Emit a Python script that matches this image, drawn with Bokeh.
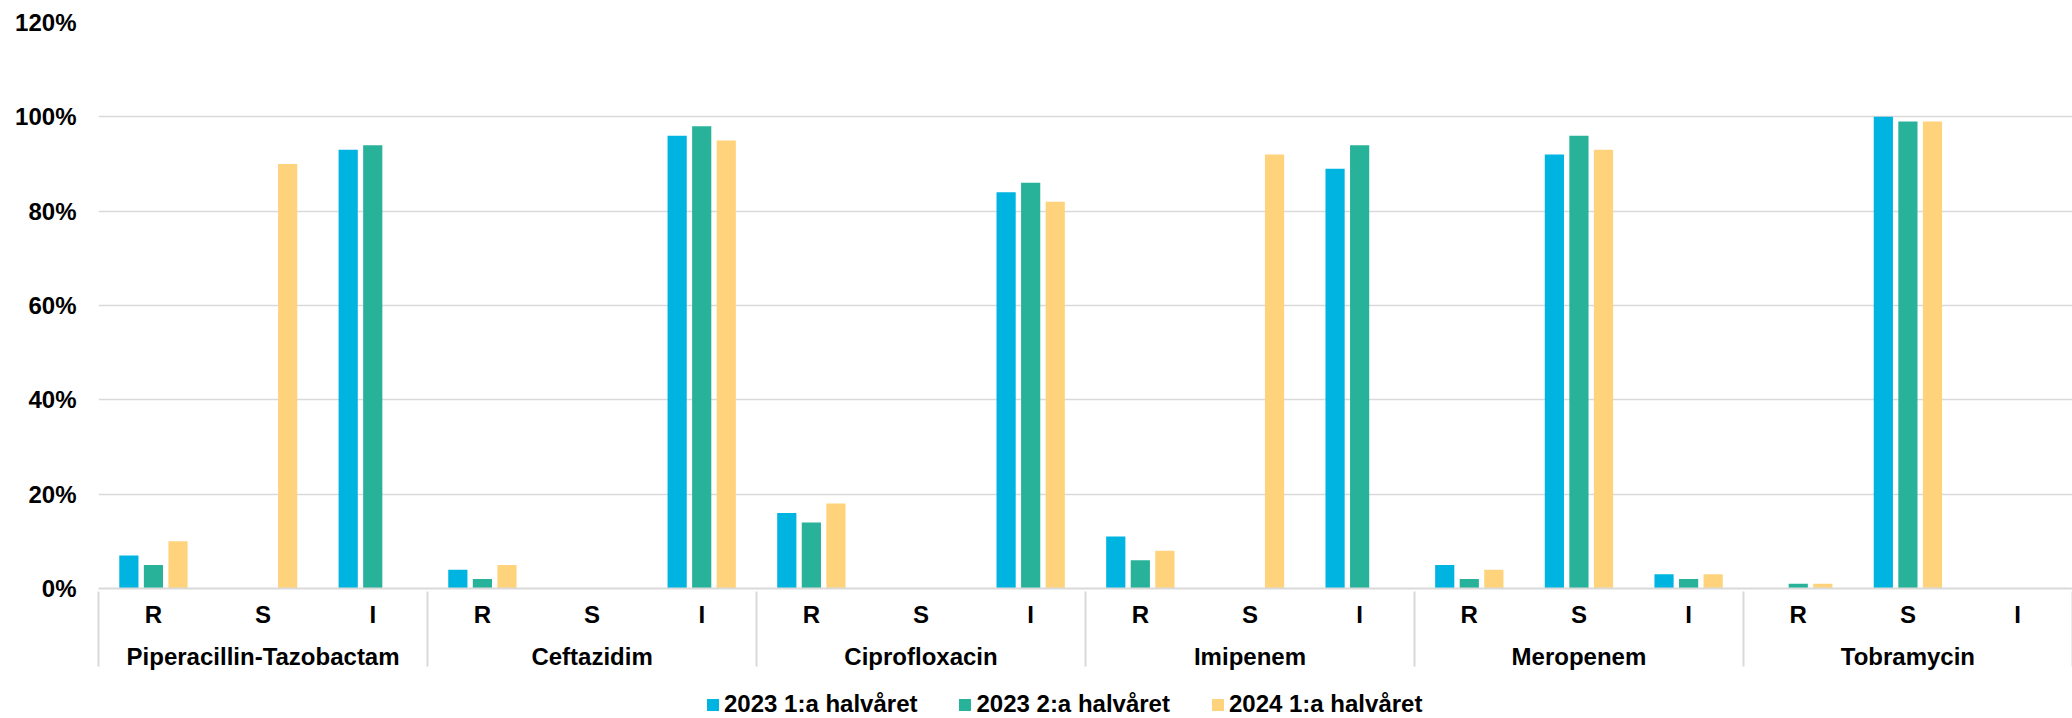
from bokeh.plotting import figure
from bokeh.layouts import column
from bokeh.models import (FactorRange, Range1d, FixedTicker, PrintfTickFormatter,
                          Legend, LegendItem, ColumnDataSource)
from bokeh.transform import dodge
from bokeh.embed import file_html
from bokeh.resources import INLINE

# ---- data ----
antibiotics = ["Piperacillin-Tazobactam", "Ceftazidim", "Ciprofloxacin",
               "Imipenem", "Meropenem", "Tobramycin"]
sir = ["R", "S", "I"]
series_names = ["2023 1:a halvåret", "2023 2:a halvåret", "2024 1:a halvåret"]
h2023_1 = [7, 0, 93, 4, 0, 96, 16, 0, 84, 11, 0, 89, 5, 92, 3, 0, 100, 0]
h2023_2 = [5, 0, 94, 2, 0, 98, 14, 0, 86, 6, 0, 94, 2, 96, 2, 1, 99, 0]
h2024_1 = [10, 90, 0, 5, 0, 95, 18, 0, 82, 8, 92, 0, 4, 93, 3, 1, 99, 0]
y_ticks = [0, 20, 40, 60, 80, 100, 120]

colors = ["#00B4E1", "#29B29A", "#FFD37B"]

factors = [(a, s) for a in antibiotics for s in sir]
# empty edge slots (hidden by negative padding) so that the axis draws a
# separator at the left edge of the first group as well
range_factors = [("", "")] + factors + [(" ", " ")]
source = ColumnDataSource(data=dict(x=factors, a=h2023_1, b=h2023_2, c=h2024_1))

FONT = "Liberation Sans"
FS = "24px"

p = figure(x_range=FactorRange(*range_factors, range_padding=-0.999,
                               range_padding_units="absolute",
                               group_padding=0, factor_padding=0),
           y_range=Range1d(0, 120),
           width=2072, height=678, output_backend="svg", toolbar_location=None,
           min_border_left=98, min_border_right=0, min_border_top=22,
           min_border_bottom=90)
p.outline_line_color = None

renderers = []
for col, off, color in zip(["a", "b", "c"], [-0.224, 0.0, 0.224], colors):
    r = p.vbar(x=dodge("x", off, range=p.x_range), top=col, width=0.175,
               source=source, fill_color=color, line_color=None)
    renderers.append(r)

# grid
p.xgrid.grid_line_color = None
p.ygrid.grid_line_color = "#D9D9D9"
p.ygrid.grid_line_width = 1.5

# y axis
p.yaxis.ticker = FixedTicker(ticks=y_ticks)
p.yaxis.formatter = PrintfTickFormatter(format="%d%%")
p.yaxis.axis_line_color = None
p.yaxis.major_tick_line_color = None
p.yaxis.minor_tick_line_color = None
p.yaxis.major_tick_out = 0
p.yaxis.major_tick_in = 0
p.yaxis.major_label_text_font = FONT
p.yaxis.major_label_text_font_style = "bold"
p.yaxis.major_label_text_font_size = FS
p.yaxis.major_label_text_color = "#000000"
p.yaxis.major_label_standoff = 22

# x axis
xa = p.xaxis[0]
xa.axis_line_color = "#D9D9D9"
xa.axis_line_width = 2
xa.major_tick_line_color = None
xa.minor_tick_line_color = None
xa.major_tick_out = -3
xa.major_tick_in = 0
xa.major_label_standoff = 12
xa.major_label_text_font = FONT
xa.major_label_text_font_style = "bold"
xa.major_label_text_font_size = FS
xa.major_label_text_color = "#000000"
xa.group_text_font = FONT
xa.group_text_font_style = "bold"
xa.group_text_font_size = FS
xa.group_text_color = "#000000"
xa.separator_line_color = "#D9D9D9"
xa.separator_line_width = 2

# legend strip below the chart (proxy glyphs lie outside its visible range)
lg = figure(width=2072, height=40, x_range=Range1d(0, 1), y_range=Range1d(0, 1),
            x_axis_type=None, y_axis_type=None, output_backend="svg",
            toolbar_location=None, min_border=0, min_border_left=0,
            min_border_right=0, min_border_top=0, min_border_bottom=0)
lg.outline_line_color = None
lg.xgrid.visible = False
lg.ygrid.visible = False
proxies = [lg.vbar(x=[5], top=[1], width=0.1, fill_color=c, line_color=None) for c in colors]

legend = Legend(items=[LegendItem(label=n, renderers=[r]) for n, r in zip(series_names, proxies)],
                orientation="horizontal", location=(607, 0),
                glyph_width=15, glyph_height=15, label_standoff=4, spacing=40,
                padding=0, margin=0, border_line_color=None, background_fill_alpha=0,
                label_text_font=FONT, label_text_font_style="bold",
                label_text_font_size=FS, label_text_color="#000000")
lg.add_layout(legend, "center")

layout = column(p, lg, spacing=0)
open("out.html", "w").write(file_html(layout, INLINE))
